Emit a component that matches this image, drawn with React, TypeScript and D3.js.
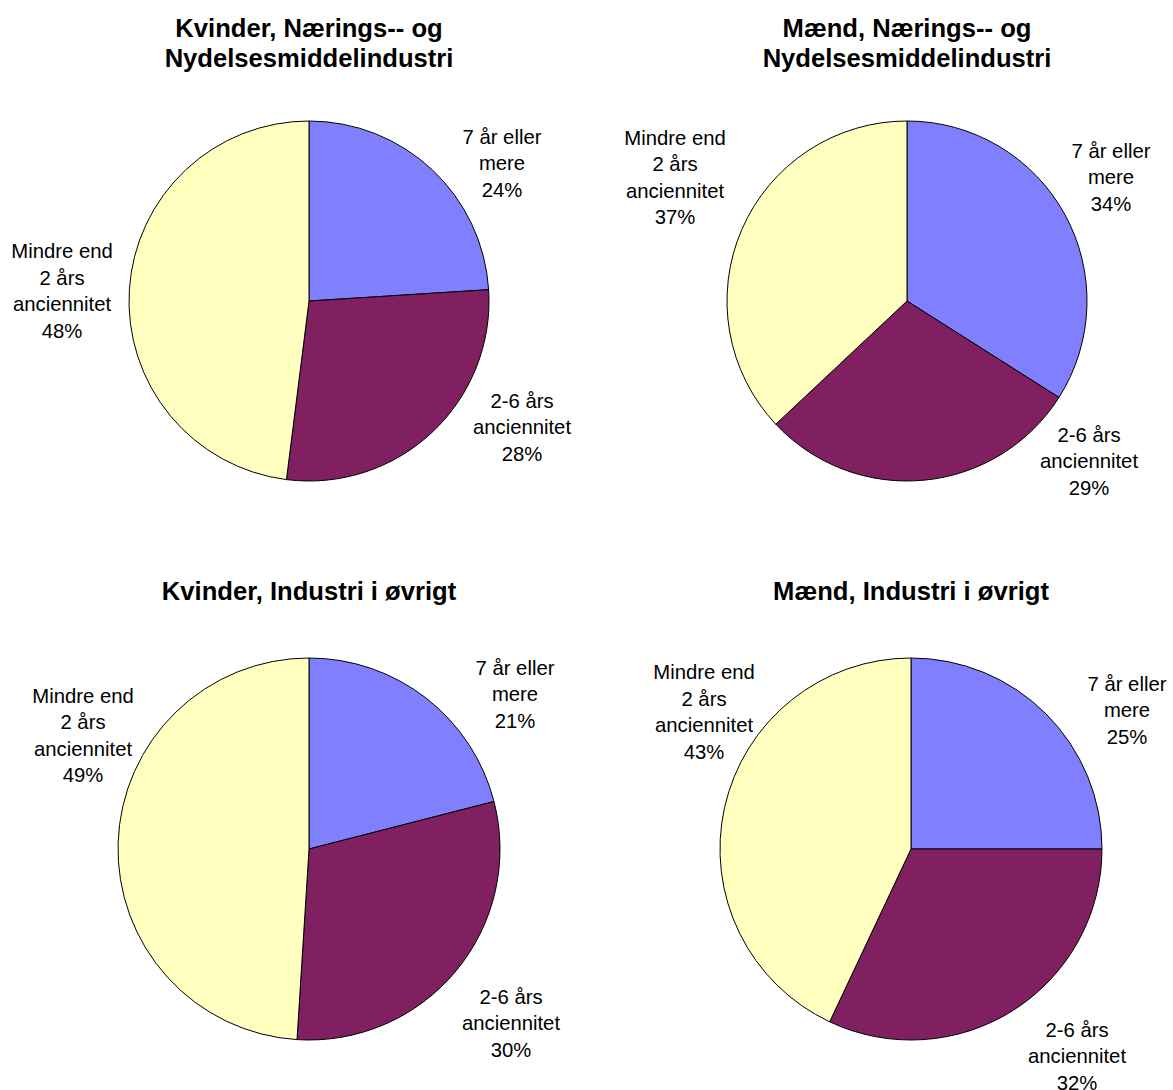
import React from "react";
import * as d3 from "d3";

const categories = ["7 år eller mere", "2-6 års anciennitet", "Mindre end 2 års anciennitet"];
const labelLines = [
  ["7 år eller", "mere"],
  ["2-6 års", "anciennitet"],
  ["Mindre end", "2 års", "anciennitet"],
];
const colors = ["#8080FF", "#802060", "#FFFFC0"];

const titles = [
  ["Kvinder, Nærings-- og", "Nydelsesmiddelindustri"],
  ["Mænd, Nærings-- og", "Nydelsesmiddelindustri"],
  ["Kvinder, Industri i øvrigt"],
  ["Mænd, Industri i øvrigt"],
];

const kvinderNaering = [24, 28, 48];
const maendNaering = [34, 29, 37];
const kvinderIndustri = [21, 30, 49];
const maendIndustri = [25, 32, 43];
const seriesValues = [kvinderNaering, maendNaering, kvinderIndustri, maendIndustri];

// layout: pie centers, radii, title baselines, label offsets (block centers relative to pie center)
const layout = [
  { cx: 309, cy: 301, r: 180, titleY: 37, labels: [[193, -138], [213, 126], [-247, -10]] },
  { cx: 907, cy: 301, r: 180, titleY: 37, labels: [[204, -124], [182, 160], [-232, -123.5]] },
  { cx: 309, cy: 849, r: 191, titleY: 600, labels: [[206, -155], [202, 174], [-226, -113.5]] },
  { cx: 911, cy: 849, r: 191, titleY: 600, labels: [[216, -139], [166, 207], [-207, -137]] },
];

const FONT = "'Liberation Sans', Arial, sans-serif";
const LINE = 26.5;

function Pie({ idx }: { idx: number }) {
  const L = layout[idx];
  const values = seriesValues[idx];
  const pie = d3.pie<number>().sort(null).value((d) => d).startAngle(0).endAngle(2 * Math.PI);
  const arcs = pie(values);
  const arc = d3.arc<d3.PieArcDatum<number>>().innerRadius(0).outerRadius(L.r);
  const total = d3.sum(values);
  return (
    <g>
      <text
        x={L.cx}
        y={L.titleY}
        textAnchor="middle"
        fontFamily={FONT}
        fontWeight="bold"
        fontSize={25.6}
        fill="#000"
      >
        {titles[idx].map((t, i) => (
          <tspan key={i} x={L.cx} dy={i === 0 ? 0 : 30}>
            {t}
          </tspan>
        ))}
      </text>
      <g transform={`translate(${L.cx},${L.cy})`}>
        {arcs.map((a, i) => (
          <path key={i} d={arc(a) || ""} fill={colors[i]} stroke="#000" strokeWidth={1} />
        ))}
        {arcs.map((a, i) => {
          const lines = [...labelLines[i], `${Math.round((a.value / total) * 100)}%`];
          const [ox, oy] = L.labels[i];
          const top = oy - ((lines.length - 1) * LINE) / 2;
          return (
            <text
              key={"l" + i}
              textAnchor="middle"
              fontFamily={FONT}
              fontSize={20.3}
              fill="#000"
              aria-label={categories[i]}
            >
              {lines.map((t, j) => (
                <tspan key={j} x={ox} y={top + j * LINE} dy="0.35em">
                  {t}
                </tspan>
              ))}
            </text>
          );
        })}
      </g>
    </g>
  );
}

export default function App() {
  return (
    <div style={{ position: "absolute", left: 0, top: 0, width: 1173, height: 1090, background: "#fff" }}>
      <svg width={1173} height={1090} style={{ display: "block" }}>
        <rect width={1173} height={1090} fill="#fff" />
        {[0, 1, 2, 3].map((i) => (
          <Pie key={i} idx={i} />
        ))}
      </svg>
    </div>
  );
}
